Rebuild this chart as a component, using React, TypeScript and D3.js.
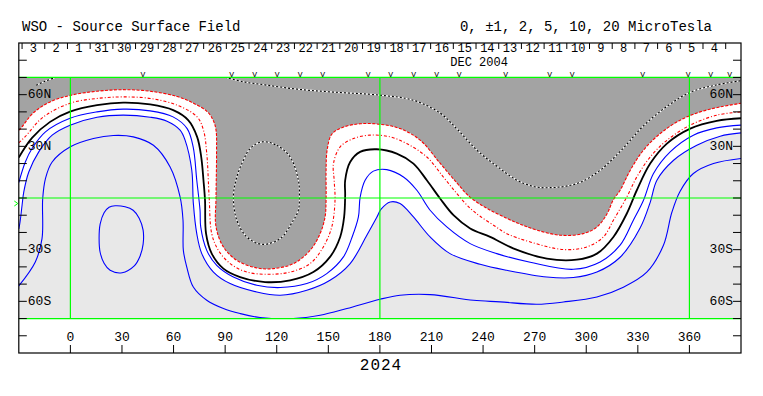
import React from "react";
import * as d3 from "d3";

const TITLE = "WSO - Source Surface Field";
const LEGEND = "0, ±1, 2, 5, 10, 20 MicroTesla";
const YEAR_LABEL = "2024";
const MONTH_LABEL = "DEC 2004";
const MONTH_LON = 237.7;
const DAY_LABELS = ["3","2","1","31","30","29","28","27","26","25","24","23","22","21","20","19","18","17","16","15","14","13","12","11","10","9","8","7","6","5","4"];
const DAY_START_LON = -21.5;
const DAY_STEP = 13.2;
const OBS_LONS = [42.2, 93.8, 107.1, 120.2, 133.6, 146.7, 173.1, 186.2, 199.6, 213.0, 226.1, 253.1, 278.7, 291.8, 332.8, 359.3, 372.3, 383.4];
const LON_TICKS = [0, 30, 60, 90, 120, 150, 180, 210, 240, 270, 300, 330, 360];
const LAT_TICKS = [80, 70, 60, 50, 40, 30, 20, 10, 0, -10, -20, -30, -40, -50, -60, -70, -80];
const LAT_LABEL_VALUES = [60, 30, -30, -60];
const LAT_LABEL_TEXT = ["60N", "30N", "30S", "60S"];
const GRID_LONS = [0, 180, 360];
const GRID_LATS = [70, 0, -70];

// contour lines [lon, lat]
const C_M2: [number, number][] = [
  [-30, 39.5], [-29.3, 39.9], [-21.7, 49.3], [-11.8, 55.8], [0, 59.6], [15.5, 62.0], [30.7, 62.9], [46.4, 62.0],
  [62.1, 58.9], [71.4, 55.1], [79.5, 50.2], [83.0, 45.2], [84.7, 39.4], [85.0, 26.0], [84.7, 0.4],
  [84.7, -16.8], [89.0, -28.4], [96.8, -36.2], [108.4, -40.6], [118.1, -41.0], [129.7, -38.1], [139.4, -30.4],
  [145.2, -20.7], [148.1, -11.0], [148.7, -1.3], [148.7, 16.1], [149.3, 27.7], [152.0, 37.0], [158.6, 41.1],
  [168.5, 43.1], [180.1, 42.8], [191.7, 40.3], [203.4, 33.6], [215.0, 20.2], [224.9, 8.6], [232.5, 0.4],
  [242.4, -6.1], [254.0, -11.9], [261.6, -15.2], [271.5, -18.7], [284.8, -21.6], [298.2, -20.7], [306.3, -16.8],
  [312.2, -9.0], [315.6, -1.3], [319.7, 4.5], [325.6, 16.1], [333.2, 27.7], [343.0, 37.4], [354.6, 45.2],
  [366.3, 50.0], [377.9, 52.9], [390, 55.0]
];
const C_M1: [number, number][] = [
  [-30, 32.0], [-26.3, 35.6], [-15.9, 46.9], [-0.2, 55.0], [15.5, 57.8], [30.7, 58.7], [46.4, 57.8], [62.1, 53.9],
  [73.7, 47.1], [77.4, 39.4], [79.3, 26.0], [80.7, 0.4], [82.2, -20.7], [86.1, -30.4], [92.9, -38.1],
  [102.6, -43.0], [115.2, -44.3], [127.8, -43.0], [139.4, -38.1], [147.1, -28.4], [152.0, -16.8], [153.9, -1.3],
  [153.4, 10.3], [153.0, 20.0], [156.9, 29.7], [164.6, 34.5], [174.3, 36.5], [185.9, 35.5], [195.6, 31.6],
  [207.3, 23.8], [216.9, 12.2], [224.7, 2.6], [232.5, -6.0], [238.3, -10.6], [247.0, -16.4], [253.8, -20.7],
  [267.4, -25.5], [286.7, -29.9], [300.3, -28.4], [310.0, -22.6], [315.8, -12.9], [323.6, 0.6], [329.4, 12.2],
  [337.2, 23.8], [346.9, 33.5], [360.5, 42.3], [375.9, 48.1], [390, 50.0]
];
const C_0: [number, number][] = [
  [-30, 23.5], [-22.3, 34.9], [-11.8, 44.2], [-0.2, 50.1], [15.5, 53.9], [30.7, 55.4], [46.4, 54.3], [59.8, 51.0],
  [68.5, 45.2], [73.7, 35.5], [76.1, 23.8], [77.4, 10.3], [78.3, -1.3], [78.9, -20.7], [82.2, -32.3],
  [89.0, -41.0], [98.7, -45.9], [113.2, -48.8], [127.8, -47.8], [141.3, -43.0], [151.0, -34.2], [156.9, -22.6],
  [159.2, -11.0], [159.8, 1.6], [159.8, 10.3], [162.7, 20.9], [168.5, 26.8], [178.2, 28.3], [189.8, 25.8],
  [199.5, 20.0], [207.3, 10.3], [215.0, -0.3], [222.8, -10.0], [232.5, -17.7], [244.1, -22.6], [257.5, -29.2],
  [277.1, -35.2], [294.5, -35.8], [306.2, -32.3], [315.8, -22.6], [323.6, -9.0], [329.4, 4.5], [337.2, 20.0],
  [346.9, 31.6], [360.5, 40.3], [375.9, 44.8], [390, 46.3]
];
const C_P1: [number, number][] = [
  [-30, 9.0], [-26.2, 20.9], [-22.3, 28.7], [-14.5, 38.4], [-0.2, 46.3], [15.5, 50.0], [30.7, 51.6], [46.4, 50.6],
  [59.7, 47.1], [67.9, 40.3], [71.4, 29.7], [73.5, 10.3], [75.4, -7.1], [75.8, -16.8], [79.3, -30.4],
  [85.1, -39.1], [94.8, -45.9], [108.4, -50.7], [122.0, -52.0], [137.5, -49.7], [149.1, -43.9], [158.8, -34.2],
  [163.8, -22.8], [167.5, -11.0], [168.5, 0.4], [171.4, 10.3], [176.2, 15.6], [184.0, 16.5], [193.7, 12.2],
  [201.5, 4.5], [209.2, -7.1], [218.9, -16.8], [232.5, -26.5], [248.0, -32.3], [267.4, -37.3], [292.5, -41.4],
  [308.1, -37.1], [319.7, -27.4], [327.4, -12.9], [333.3, -1.3], [339.1, 14.2], [348.8, 26.8], [362.3, 36.5],
  [375.9, 40.7], [390, 42.3]
];
const C_P2: [number, number][] = [
  [-30, -18.0], [-29.3, -14.1], [-28.1, -4.2], [-27.1, 3.5], [-24.2, 15.1], [-18.4, 26.8], [-10.6, 36.5], [-0.2, 42.3],
  [15.5, 46.9], [30.7, 48.1], [46.4, 46.9], [56.2, 44.6], [63.8, 39.4], [66.7, 33.6], [70.6, 16.1], [71.5, -3.0],
  [73.5, -20.7], [76.4, -32.3], [83.2, -43.0], [92.9, -49.7], [108.4, -54.6], [122.0, -56.5], [137.5, -53.6],
  [151.0, -47.8], [162.7, -38.1], [172.4, -21.6], [178.2, -11.2], [180.7, -6.5], [186.0, -2.3], [191.7, -3.2],
  [199.5, -11.0], [209.2, -22.6], [220.8, -32.3], [238.3, -38.5], [253.8, -42.0], [277.1, -45.9], [292.5, -46.2],
  [306.2, -43.0], [319.7, -34.4], [331.4, -17.3], [337.2, -2.5], [341.1, 10.3], [350.8, 21.9], [364.3, 30.6],
  [377.9, 35.9], [390, 37.8]
];
const C_P5: [number, number][] = [
  [-30, -51.0], [-20.4, -37.1], [-16.5, -23.6], [-16.1, -0.3], [-14.5, 11.3], [-10.6, 20.9], [0, 29.7], [13.4, 34.5],
  [25.0, 36.3], [36.6, 35.5], [48.3, 30.6], [58.0, 18.0], [63.8, 0.6], [65.5, -12.9], [65.7, -30.4], [67.7, -40.1],
  [71.5, -51.7], [79.3, -59.4], [89.0, -64.2], [98.7, -67.1], [110.3, -69.4], [129.7, -70.0], [145.2, -68.1],
  [160.8, -64.2], [180.1, -58.8], [191.7, -56.5], [209.2, -56.1], [234.4, -59.4], [249.9, -60.3], [271.3, -61.7],
  [286.7, -60.4], [306.2, -57.5], [321.6, -51.8], [335.2, -43.1], [344.9, -27.4], [349.8, -8.3], [354.6, 3.9],
  [362.3, 14.2], [374.0, 20.0], [390, 22.9]
];
const C_P10: [number, number][] = [
  [26.0, -4.5], [31.8, -5.1], [36.5, -7.1], [40.0, -11.7], [42.3, -18.7], [42.3, -26.8], [40.5, -33.8], [37.0, -39.6],
  [30.1, -43.4], [23.1, -42.0], [19.6, -37.9], [17.3, -31.5], [16.7, -23.3], [17.3, -15.2], [19.6, -8.6], [22.5, -5.4]
];
const C_M5_OVAL: [number, number][] = [
  [111.3, 32.6], [120.0, 30.6], [127.8, 23.8], [132.6, 10.3], [133.2, 0.6], [132.6, -7.1], [129.7, -12.9],
  [122.0, -23.6], [111.5, -26.9], [102.6, -22.6], [96.8, -12.9], [94.8, 0.6], [96.8, 12.2], [100.6, 21.9], [104.5, 28.7]
];
const C_M5_LONG: [number, number][] = [
  [90.0, 70.1], [100.4, 67.5], [114.4, 65.5], [131.8, 63.2], [152.8, 61.5], [180.1, 59.7], [199.3, 56.8],
  [215.0, 49.3], [225.5, 39.4], [236.5, 27.7], [248.1, 18.4], [259.8, 10.3], [270.2, 6.5], [279.0, 6.0],
  [287.7, 6.8], [296.5, 9.1], [308.1, 16.1], [321.5, 28.9], [333.1, 41.7], [347.1, 53.3], [360.5, 61.4],
  [375.0, 65.5], [390, 68.1]
];
const C_M5_CORNER: [number, number][] = [[-19.9, 65.5], [-14.7, 67.8], [-8.3, 70.1]];

const W = 763;
const H = 396;
const FONT = "'Liberation Mono', 'DejaVu Sans Mono', monospace";

export default function App() {
  const x = d3.scaleLinear().domain([-30, 390]).range([18.8, 741]);
  const y = d3.scaleLinear().domain([90, -90]).range([43, 353]);
  const line = d3.line<[number, number]>().x(d => x(d[0])).y(d => y(d[1])).curve(d3.curveCatmullRom.alpha(0.5));
  const closed = d3.line<[number, number]>().x(d => x(d[0])).y(d => y(d[1])).curve(d3.curveCatmullRomClosed.alpha(0.5));

  const x0 = x(-30), x1 = x(390);
  const yTop = y(70), yBot = y(-70);
  const darkPath = (line(C_M2) as string) + `L${x1},${yTop}L${x0},${yTop}Z`;
  const lightPath = (line(C_P2) as string) + `L${x1},${yBot}L${x0},${yBot}Z`;

  const dayCenters = DAY_LABELS.map((_, i) => DAY_START_LON + DAY_STEP * i);
  const seps = DAY_LABELS.map((_, i) => DAY_START_LON + DAY_STEP * (i - 0.5)).concat([DAY_START_LON + DAY_STEP * (DAY_LABELS.length - 0.5)]);

  const blue = "#0000ff";
  const red = "#ff0000";
  const green = "#00ff00";

  return (
    <svg width={W} height={H} style={{ position: "absolute", left: 0, top: 0, background: "#fff" }}>
      <rect x={0} y={0} width={W} height={H} fill="#ffffff" />
      <defs>
        <clipPath id="mapclip">
          <rect x={x0} y={yTop} width={x1 - x0} height={yBot - yTop} />
        </clipPath>
      </defs>
      <text x={22} y={27} fontFamily={FONT} fontSize={14} dominantBaseline="central" fill="#000">{TITLE}</text>
      <text x={712} y={27} fontFamily={FONT} fontSize={14} dominantBaseline="central" textAnchor="end" fill="#000">{LEGEND}</text>

      <g clipPath="url(#mapclip)">
        <rect x={x0} y={yTop} width={x1 - x0} height={yBot - yTop} fill="#ffffff" />
        <path d={darkPath} fill="#a3a3a3" />
        <path d={lightPath} fill="#e8e8e8" />
        <path d={line(C_M5_LONG) as string} fill="none" stroke="#fff" strokeWidth={1.1} />
        <path d={line(C_M5_LONG) as string} fill="none" stroke="#000" strokeWidth={1.1} strokeDasharray="2,2" />
        <path d={closed(C_M5_OVAL) as string} fill="none" stroke="#fff" strokeWidth={1.1} />
        <path d={closed(C_M5_OVAL) as string} fill="none" stroke="#000" strokeWidth={1.1} strokeDasharray="2,2" />
        <path d={line(C_M5_CORNER) as string} fill="none" stroke="#fff" strokeWidth={1.1} />
        <path d={line(C_M5_CORNER) as string} fill="none" stroke="#000" strokeWidth={1.1} strokeDasharray="2,2" />
        <path d={line(C_M2) as string} fill="none" stroke={red} strokeWidth={1.1} strokeDasharray="3,1.5" />
        <path d={line(C_M1) as string} fill="none" stroke={red} strokeWidth={1.1} strokeDasharray="3,2,1,2" />
        <path d={line(C_0) as string} fill="none" stroke="#000" strokeWidth={1.8} />
        <path d={line(C_P1) as string} fill="none" stroke={blue} strokeWidth={1.1} />
        <path d={line(C_P2) as string} fill="none" stroke={blue} strokeWidth={1.1} />
        <path d={line(C_P5) as string} fill="none" stroke={blue} strokeWidth={1.1} />
        <path d={closed(C_P10) as string} fill="none" stroke={blue} strokeWidth={1.1} />
      </g>

      {GRID_LATS.map(la => (
        <line key={"gl" + la} x1={x0} x2={x1} y1={y(la)} y2={y(la)} stroke={green} strokeWidth={1.2} />
      ))}
      {GRID_LONS.map(lo => (
        <line key={"gv" + lo} x1={x(lo)} x2={x(lo)} y1={yTop} y2={yBot} stroke={green} strokeWidth={1.2} />
      ))}
      <path d={`M${x0 - 4.5},${y(0) + 3}L${x0 - 1},${y(0) + 5.5}L${x0 - 4.5},${y(0) + 8}`} fill="none" stroke={green} strokeWidth={1} />

      <rect x={x0} y={y(90)} width={x1 - x0} height={y(-90) - y(90)} fill="none" stroke="#000" strokeWidth={1.2} />

      {LAT_TICKS.map(la => (
        <g key={"lt" + la}>
          <line x1={x0} x2={x0 + 8} y1={y(la)} y2={y(la)} stroke="#000" strokeWidth={1} />
          <line x1={x1 - 8} x2={x1} y1={y(la)} y2={y(la)} stroke="#000" strokeWidth={1} />
        </g>
      ))}
      {LAT_LABEL_VALUES.map((la, i) => (
        <g key={"ll" + la}>
          <text x={x0 + 9} y={y(la)} fontFamily={FONT} fontSize={13} dominantBaseline="central" fill="#000">{LAT_LABEL_TEXT[i]}</text>
          <text x={x1 - 8} y={y(la)} fontFamily={FONT} fontSize={13} dominantBaseline="central" textAnchor="end" fill="#000">{LAT_LABEL_TEXT[i]}</text>
        </g>
      ))}

      {LON_TICKS.map(lo => (
        <g key={"bt" + lo}>
          <line x1={x(lo)} x2={x(lo)} y1={y(-90) - 8} y2={y(-90)} stroke="#000" strokeWidth={1} />
          <text x={x(lo)} y={y(-90) - 15.5} fontFamily={FONT} fontSize={13} dominantBaseline="central" textAnchor="middle" fill="#000">{String(lo)}</text>
        </g>
      ))}

      {seps.map((lo, i) => (
        <line key={"sep" + i} x1={x(lo)} x2={x(lo)} y1={y(90)} y2={y(90) + 6} stroke="#000" strokeWidth={1} />
      ))}
      {DAY_LABELS.map((d, i) => (
        <text key={"day" + i} x={x(dayCenters[i])} y={49} fontFamily={FONT} fontSize={12} dominantBaseline="central" textAnchor="middle" fill="#000">{d}</text>
      ))}
      <text x={x(MONTH_LON)} y={63} fontFamily={FONT} fontSize={12} dominantBaseline="central" textAnchor="middle" fill="#000">{MONTH_LABEL}</text>
      {OBS_LONS.map((lo, i) => (
        <text key={"v" + i} x={x(lo)} y={74.5} fontFamily={FONT} fontSize={8} dominantBaseline="central" textAnchor="middle" fill="#000">V</text>
      ))}

      <text x={381} y={366} fontFamily={FONT} fontSize={16} letterSpacing={1} dominantBaseline="central" textAnchor="middle" fill="#000">{YEAR_LABEL}</text>
    </svg>
  );
}
